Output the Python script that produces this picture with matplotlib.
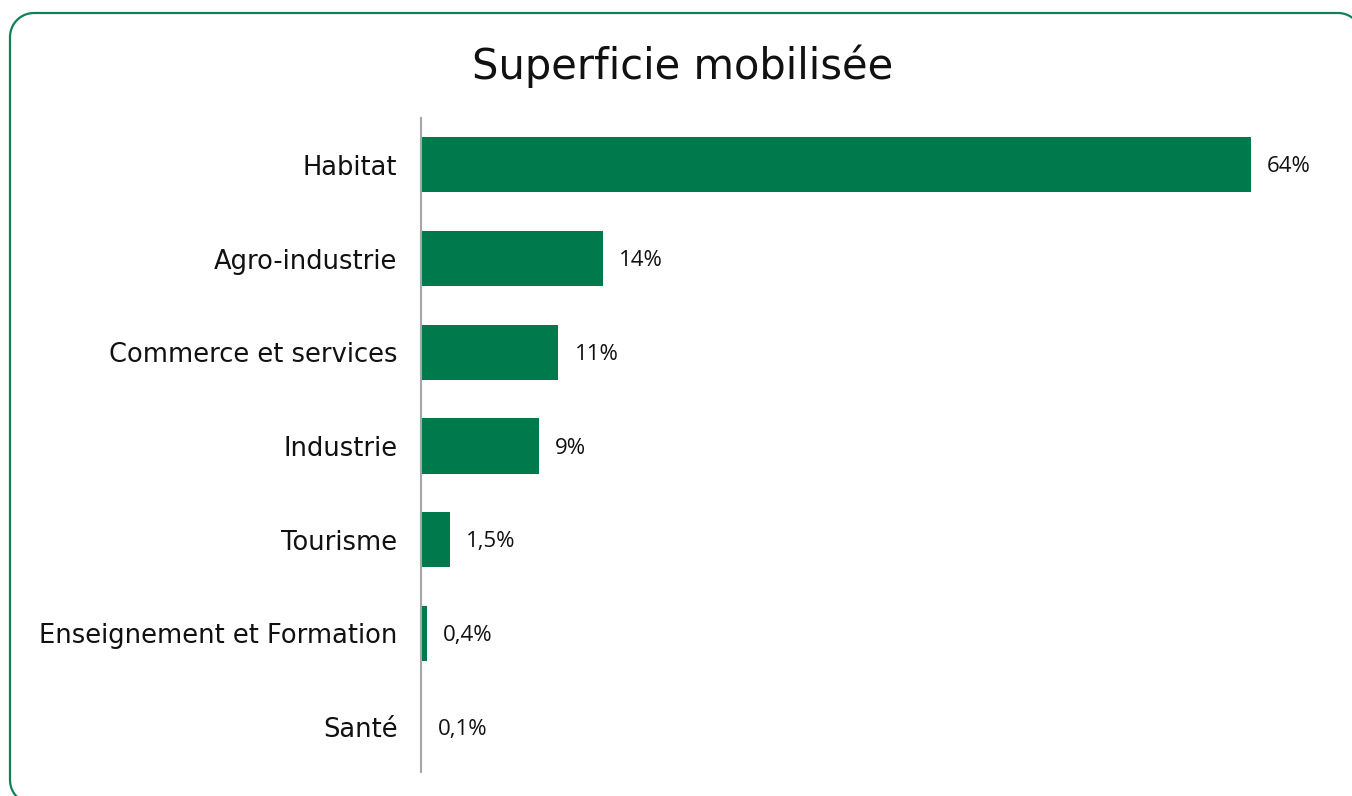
import numpy as np
import matplotlib.pyplot as plt
from matplotlib.lines import Line2D
from matplotlib.transforms import IdentityTransform

categories = ["Habitat", "Agro-industrie", "Commerce et services", "Industrie",
              "Tourisme", "Enseignement et Formation", "Santé"]
bar_values = [64, 14, 10.6, 9.1, 2.2, 0.45, 0.1]
value_labels = ["64%", "14%", "11%", "9%", "1,5%", "0,4%", "0,1%"]

green = "#007A4D"

fig = plt.figure(figsize=(13.52, 7.96), dpi=100)
W, H = 1352, 796

# rounded frame in pixel coords (runs off the right and bottom edges)
r, left, right, top, bottom = 24, 10, 1362, H - 13, -8
arc = lambda cx, cy, a0, a1: (cx + r * np.cos(np.linspace(a0, a1, 20)),
                              cy + r * np.sin(np.linspace(a0, a1, 20)))
parts = [arc(left + r, bottom + r, 1.5 * np.pi, np.pi),
         arc(left + r, top - r, np.pi, 0.5 * np.pi),
         arc(right - r, top - r, 0.5 * np.pi, 0),
         arc(right - r, bottom + r, 0, -0.5 * np.pi)]
fx = np.concatenate([p[0] for p in parts] + [[left + r]])
fy = np.concatenate([p[1] for p in parts] + [[bottom]])
fig.add_artist(Line2D(fx, fy, transform=IdentityTransform(), color="#0E8254", lw=1.6))

ax = fig.add_axes([421 / W, 1 - 772 / H, 910 / W, (772 - 118) / H])
y = list(range(len(categories)))
ax.barh(y, bar_values, height=0.59, color=green)
ax.set_ylim(6.48, -0.5)
ax.set_xlim(0, 910 / 12.97)

for yi, v, lab in zip(y, bar_values, value_labels):
    ax.annotate(lab, (v, yi), xytext=(11.5, -1.5), textcoords="offset points",
                va="center", ha="left", fontsize=16, family="Open Sans", color="#111111")

ax.set_yticks(y)
ax.set_yticklabels(categories, fontsize=18.5, family="DejaVu Sans", color="#111111")
ax.tick_params(axis="y", length=0, pad=17)
ax.set_xticks([])
for s in ["top", "right", "bottom"]:
    ax.spines[s].set_visible(False)
ax.spines["left"].set_color("#A6A6A6")
ax.spines["left"].set_linewidth(1.5)

fig.text(683 / W, 1 - 66 / H, "Superficie mobilisée", ha="center", va="center",
         fontsize=30, family="DejaVu Sans", color="#111111")

fig.savefig("out.png", dpi=100)
